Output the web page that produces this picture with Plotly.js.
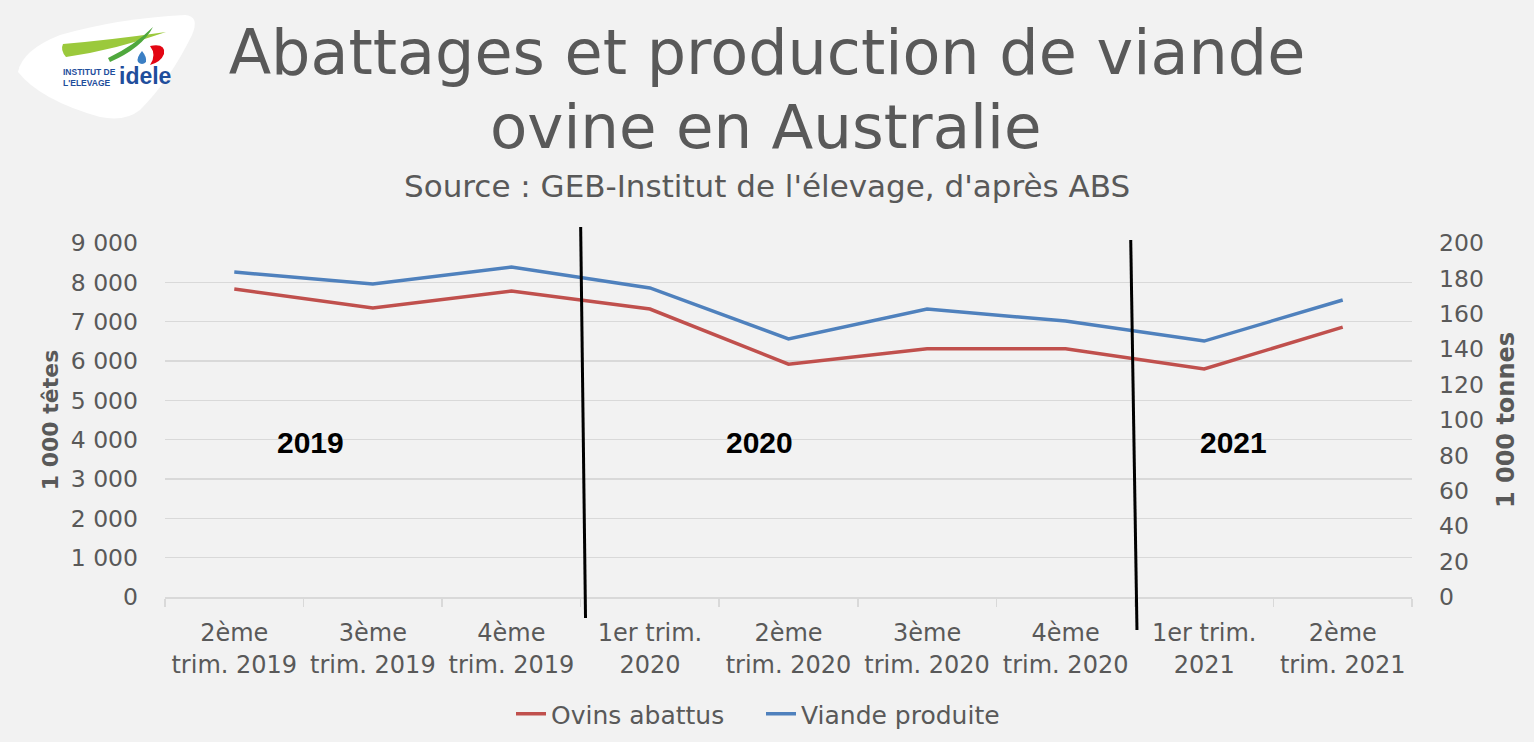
<!DOCTYPE html>
<html><head><meta charset="utf-8">
<script src="https://cdn.plot.ly/plotly-3.0.1.min.js"></script>
<style>html,body{margin:0;padding:0;background:#f2f2f2;}#chart{width:1534px;height:742px;}</style>
</head><body><div id="chart"></div>
<script>
const categories = ["2ème<br>trim. 2019","3ème<br>trim. 2019","4ème<br>trim. 2019","1er trim.<br>2020","2ème<br>trim. 2020","3ème<br>trim. 2020","4ème<br>trim. 2020","1er trim.<br>2021","2ème<br>trim. 2021"];
const ovinsAbattus = [7830, 7350, 7780, 7320, 5920, 6310, 6310, 5800, 6860];
const viandeProduite = [183.6, 176.8, 186.4, 174.6, 145.8, 162.7, 155.9, 144.6, 167.8];
const leftTicks = [0,1000,2000,3000,4000,5000,6000,7000,8000,9000];
const leftTickText = ["0","1 000","2 000","3 000","4 000","5 000","6 000","7 000","8 000","9 000"];
const rightTicks = [0,20,40,60,80,100,120,140,160,180,200];
const yearLabels = ["2019","2020","2021"];
const yearPos = [0.55, 3.79, 7.21];

const font = "'DejaVu Sans', Verdana, sans-serif";
const grey = "#595959";

const traces = [
  {x: categories, y: ovinsAbattus, name: "Ovins abattus", type: "scatter", mode: "lines",
   line: {color: "#c0504d", width: 3.5}, yaxis: "y"},
  {x: categories, y: viandeProduite, name: "Viande produite", type: "scatter", mode: "lines",
   line: {color: "#4f81bd", width: 3.5}, yaxis: "y2"}
];

const px = v => (v-165)/1247, py = v => (597-v)/354;

const annotations = yearLabels.map((t,i)=>({x: yearPos[i], y: py(442), xref: "x", yref: "paper", text: "<b>"+t+"</b>",
  showarrow: false, yanchor: "middle", font: {family: "'Liberation Sans', Arial, sans-serif", size: 30, color: "#000"}}));
annotations.push({xref: "paper", yref: "paper", x: px(766), y: py(126), xanchor: "center", yanchor: "middle",
  text: "ovine en Australie", showarrow: false, font: {family: font, size: 61, color: grey}});
annotations.push({xref: "paper", yref: "paper", x: px(767), y: py(186), xanchor: "center", yanchor: "middle",
  text: "Source : GEB-Institut de l'élevage, d'après ABS", showarrow: false, font: {family: font, size: 31, color: grey}});
// logo text
annotations.push({xref: "paper", yref: "paper", x: px(61), y: py(77), xanchor: "left", yanchor: "middle",
  text: "<b>INSTITUT DE<br>L'ELEVAGE</b>", showarrow: false, align: "left",
  font: {family: "'Liberation Sans', Arial, sans-serif", size: 8.5, color: "#1f4e9c"}});
annotations.push({xref: "paper", yref: "paper", x: px(117), y: py(76), xanchor: "left", yanchor: "middle",
  text: "<b>idele</b>", showarrow: false,
  font: {family: "'Liberation Sans', Arial, sans-serif", size: 23, color: "#1f4e9c"}});

const shapes = [
  {type: "line", xref: "x", yref: "paper", x0: 2.5, y0: py(227), x1: 2.535, y1: py(618), line: {color: "#000", width: 3}},
  {type: "line", xref: "x", yref: "paper", x0: 6.47, y0: py(240), x1: 6.515, y1: py(630), line: {color: "#000", width: 3}},
  // logo background
  {type: "path", xref: "paper", yref: "paper", fillcolor: "#ffffff", line: {width: 0}, layer: "below",
   path: `M ${px(18)},${py(72)} Q ${px(22)},${py(50)} ${px(60)},${py(35)} Q ${px(120)},${py(18)} ${px(185)},${py(15)} Q ${px(200)},${py(16)} ${px(192)},${py(35)} Q ${px(170)},${py(80)} ${px(140)},${py(110)} Q ${px(125)},${py(122)} ${px(100)},${py(117)} Q ${px(40)},${py(100)} ${px(18)},${py(72)} Z`},
  {type: "path", xref: "paper", yref: "paper", fillcolor: "#9bc93c", line: {width: 0},
   path: `M ${px(63)},${py(44)} Q ${px(110)},${py(40)} ${px(166)},${py(32)} Q ${px(115)},${py(50)} ${px(66)},${py(57)} Q ${px(60)},${py(50)} ${px(63)},${py(44)} Z`},
  {type: "path", xref: "paper", yref: "paper", fillcolor: "#4fa83d", line: {width: 0},
   path: `M ${px(108)},${py(58)} Q ${px(135)},${py(45)} ${px(153)},${py(27)} Q ${px(142)},${py(48)} ${px(110)},${py(62)} Z`},
  {type: "path", xref: "paper", yref: "paper", fillcolor: "#e30613", line: {width: 0},
   path: `M ${px(150)},${py(46)} Q ${px(166)},${py(43)} ${px(164)},${py(54)} Q ${px(161)},${py(62)} ${px(150)},${py(65)} Q ${px(157)},${py(55)} ${px(150)},${py(46)} Z`},
  {type: "path", xref: "paper", yref: "paper", fillcolor: "#3b7fc4", line: {width: 0},
   path: `M ${px(142)},${py(51)} Q ${px(136)},${py(58)} ${px(138)},${py(62)} Q ${px(142)},${py(66)} ${px(146)},${py(62)} Q ${px(147)},${py(57)} ${px(142)},${py(51)} Z`}
];

const layout = {
  width: 1534, height: 742,
  paper_bgcolor: "#f2f2f2", plot_bgcolor: "#f2f2f2",
  margin: {l: 165, r: 122, t: 243, b: 145},
  title: {text: "Abattages et production de viande", x: 0.5, xanchor: "center", xref: "container",
    y: 1 - 52/742, yref: "container", yanchor: "middle", font: {family: font, size: 62, color: grey}},
  xaxis: {type: "category", range: [-0.5, 8.5], showgrid: false,
    showline: true, linecolor: "#d9d9d9", linewidth: 1.5, ticks: "outside", tickson: "boundaries", ticklen: 8,
    tickcolor: "#d9d9d9", tickwidth: 1.5, ticklabelstandoff: 14, tickfont: {family: font, size: 24, color: grey},
    zeroline: false, fixedrange: true},
  yaxis: {range: [0, 9000], tickvals: leftTicks, ticktext: leftTickText, gridcolor: "#d9d9d9", gridwidth: 1.5,
    zeroline: false, ticklabelstandoff: 26, tickfont: {family: font, size: 23.5, color: grey},
    title: {text: "<b>1 000 têtes</b>", font: {family: font, size: 22, color: grey}, standoff: 6}},
  yaxis2: {range: [0, 200], tickvals: rightTicks, overlaying: "y", side: "right", showgrid: false, zeroline: false,
    ticklabelstandoff: 26, tickfont: {family: font, size: 23.5, color: grey},
    title: {text: "<b>1 000 tonnes</b>", font: {family: font, size: 24, color: grey}, standoff: 14}},
  legend: {orientation: "h", x: px(511), xanchor: "left", y: 1 - 714/742, yref: "container", yanchor: "middle",
    entrywidth: 205, entrywidthmode: "pixels",
    font: {family: font, size: 25, color: grey}, bgcolor: "rgba(0,0,0,0)"},
  showlegend: true,
  annotations: annotations,
  shapes: shapes
};
Plotly.newPlot("chart", traces, layout, {displayModeBar: false, staticPlot: true});
</script></body></html>
